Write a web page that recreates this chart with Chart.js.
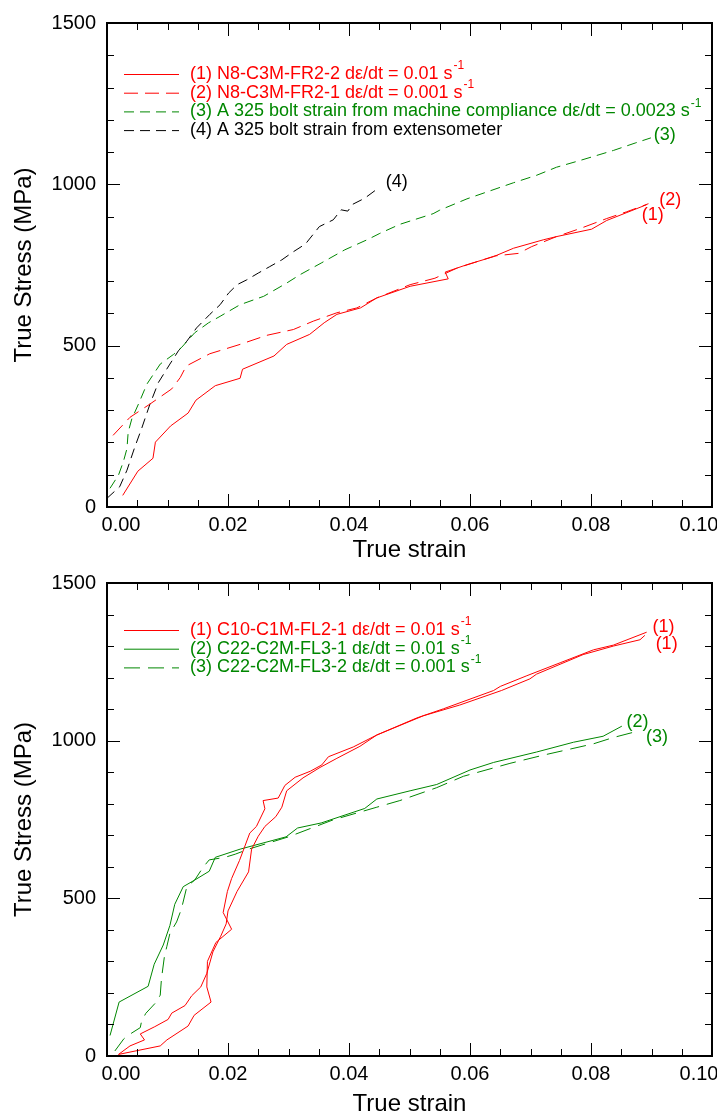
<!DOCTYPE html>
<html>
<head>
<meta charset="utf-8">
<script src="https://cdn.jsdelivr.net/npm/chart.js@4.4.1/dist/chart.umd.min.js"></script>
<style>
  html, body { margin: 0; padding: 0; background: #fff; }
  #wrap { position: relative; width: 717px; height: 1119px; }
  canvas { position: absolute; left: 0; }
</style>
</head>
<body>
<div id="wrap">
  <canvas id="chartTop" width="717" height="565" style="top:0px"></canvas>
  <canvas id="chartBottom" width="717" height="559" style="top:560px"></canvas>
</div>
<script>
'use strict';

const RED = '#ff0000';
const GREEN = 'rgb(0,135,0)';
const BLACK = '#000000';

// ---------- top panel ----------
const topLegendText = [
  '(1) N8-C3M-FR2-2 dε/dt = 0.01 s',
  '(2) N8-C3M-FR2-1 dε/dt = 0.001 s',
  '(3) A 325 bolt strain from machine compliance dε/dt = 0.0023 s',
  '(4) A 325 bolt strain from extensometer'
];
const topLegendSup = ['-1', '-1', '-1', ''];

const fr22Strain = [0.0026,0.0051,0.0076,0.0080,0.0105,0.0134,0.0147,0.0179,0.0220,0.0224,0.0276,0.0297,0.0335,0.0359,0.0380,0.0419,0.0446,0.0501,0.0564,0.0559,0.0595,0.0639,0.0672,0.0721,0.0743,0.0801,0.0826,0.0876,0.0892];
const fr22Stress = [36,111,151,201,251,291,331,376,399,427,468,504,535,571,597,617,648,684,707,728,751,776,802,828,838,861,888,925,937];

const fr21Strain = [0.0010,0.0038,0.0071,0.0107,0.0121,0.0131,0.0170,0.0220,0.0264,0.0308,0.0341,0.0380,0.0413,0.0446,0.0501,0.0542,0.0578,0.0641,0.0680,0.0702,0.0743,0.0782,0.0826,0.0859,0.0895];
const fr21Stress = [222,278,319,366,401,437,475,504,532,550,576,602,617,648,689,709,740,778,786,807,838,863,894,915,940];

const machineStrain = [0.0005,0.0019,0.0027,0.0033,0.0035,0.0041,0.0052,0.0066,0.0088,0.0110,0.0123,0.0145,0.0168,0.0187,0.0220,0.0259,0.0297,0.0319,0.0354,0.0393,0.0432,0.0451,0.0484,0.0539,0.0550,0.0595,0.0672,0.0710,0.0743,0.0782,0.0837,0.0873,0.0899];
const machineStress = [58,99,140,181,232,273,319,381,443,473,494,540,571,591,627,653,694,720,756,797,830,848,876,909,920,955,1005,1028,1053,1074,1105,1128,1144];

const extensoStrain = [0.0000,0.0021,0.0033,0.0046,0.0057,0.0071,0.0085,0.0104,0.0118,0.0132,0.0148,0.0170,0.0187,0.0201,0.0215,0.0231,0.0250,0.0269,0.0289,0.0308,0.0328,0.0351,0.0374,0.0387,0.0398,0.0406,0.0426,0.0444];
const extensoStress = [27,63,114,186,242,319,386,443,484,514,555,597,627,663,689,704,725,745,766,791,815,869,890,921,917,938,957,982];

const topTagText = ['(1)', '(2)', '(3)', '(4)'];
const topTagStrain = [0.0902, 0.0931, 0.0922, 0.0479];
const topTagStress = [906, 951, 1153, 1007];

// ---------- bottom panel ----------
const bottomLegendText = [
  '(1) C10-C1M-FL2-1 dε/dt = 0.01 s',
  '(2) C22-C2M-FL3-1 dε/dt = 0.01 s',
  '(3) C22-C2M-FL3-2 dε/dt = 0.001 s'
];
const bottomLegendSup = ['-1', '-1', '-1'];

const c10aStrain = [0.0019,0.0088,0.0099,0.0134,0.0144,0.0172,0.0165,0.0166,0.0180,0.0206,0.0192,0.0199,0.0206,0.0219,0.0228,0.0236,0.0247,0.0261,0.0258,0.0283,0.0294,0.0311,0.0336,0.0355,0.0366,0.0407,0.0446,0.0512,0.0556,0.0639,0.0650,0.0694,0.0749,0.0804,0.0837,0.0892];
const c10aStress = [5,32,51,95,129,171,219,300,360,402,455,522,563,620,666,707,728,784,810,818,858,884,903,923,949,980,1018,1072,1101,1159,1172,1206,1247,1288,1303,1344];

const c10bStrain = [0.0019,0.0038,0.0062,0.0055,0.0079,0.0101,0.0107,0.0129,0.0140,0.0155,0.0165,0.0175,0.0188,0.0197,0.0200,0.0215,0.0234,0.0239,0.0250,0.0261,0.0279,0.0289,0.0297,0.0324,0.0352,0.0380,0.0418,0.0446,0.0523,0.0583,0.0652,0.0699,0.0710,0.0787,0.0837,0.0881,0.0889];
const c10bStress = [5,32,51,70,93,116,136,160,191,219,262,330,380,419,460,522,584,656,697,728,759,789,841,882,915,944,982,1018,1079,1113,1159,1196,1211,1273,1300,1320,1334];

const fl31Strain = [0.0005,0.0020,0.0068,0.0078,0.0093,0.0104,0.0112,0.0126,0.0145,0.0169,0.0179,0.0220,0.0296,0.0315,0.0354,0.0426,0.0446,0.0501,0.0545,0.0600,0.0639,0.0710,0.0771,0.0820,0.0851];
const fl31Stress = [65,171,221,291,352,414,481,537,558,586,630,656,695,723,739,785,815,841,861,907,931,964,995,1014,1046];

const fl32Strain = [0.0013,0.0028,0.0041,0.0055,0.0057,0.0064,0.0081,0.0088,0.0090,0.0095,0.0099,0.0104,0.0115,0.0123,0.0132,0.0145,0.0159,0.0169,0.0195,0.0212,0.0234,0.0300,0.0374,0.0446,0.0484,0.0545,0.0589,0.0666,0.0721,0.0804,0.0837,0.0873];
const fl32Stress = [16,55,73,90,109,135,170,193,245,317,348,389,425,466,537,558,599,622,630,640,656,695,749,789,810,851,887,928,954,990,1010,1028];

const bottomTagText = ['(1)', '(1)', '(2)', '(3)'];
const bottomTagStrain = [0.0920, 0.0925, 0.0877, 0.0909];
const bottomTagStress = [1360, 1308, 1059, 1010];

// axis ticks
const strainMin = 0, strainMax = 0.10, strainStep = 0.02, strainMinor = 0.005;
const stressMin = 0, stressMax = 1500, stressStep = 500, stressMinor = 100;

const FONT = "'Liberation Sans', Arial, Helvetica, sans-serif";
Chart.defaults.font.family = FONT;
Chart.defaults.color = '#000';

function pts(xs, ys) {
  return xs.map((v, i) => ({ x: v, y: ys[i] }));
}

function series(label, xs, ys, color, dash) {
  return {
    label: label,
    data: pts(xs, ys),
    borderColor: color,
    borderWidth: 1,
    borderDash: dash,
    showLine: true,
    pointRadius: 0,
    fill: false,
    tension: 0
  };
}

// frame, inward ticks, strain labels, legend and curve tags
const panelDecor = {
  id: 'panelDecor',
  afterDatasetsDraw(chart, args, opts) {
    const ctx = chart.ctx;
    const a = chart.chartArea;
    const xs = chart.scales.x, ys = chart.scales.y;
    ctx.save();

    ctx.strokeStyle = '#000';
    ctx.lineWidth = 1;
    ctx.setLineDash([]);
    ctx.beginPath();
    const nx = Math.round((strainMax - strainMin) / strainMinor);
    const perX = Math.round(strainStep / strainMinor);
    for (let i = 0; i <= nx; i++) {
      const px = Math.round(xs.getPixelForValue(strainMin + i * strainMinor)) + 0.5;
      const len = i % perX === 0 ? 13 : 7;
      ctx.moveTo(px, a.bottom); ctx.lineTo(px, a.bottom - len);
      ctx.moveTo(px, a.top); ctx.lineTo(px, a.top + len);
    }
    const ny = Math.round((stressMax - stressMin) / stressMinor);
    const perY = Math.round(stressStep / stressMinor);
    for (let i = 0; i <= ny; i++) {
      const py = Math.round(ys.getPixelForValue(stressMin + i * stressMinor)) + 0.5;
      const len = i % perY === 0 ? 13 : 7;
      ctx.moveTo(a.left, py); ctx.lineTo(a.left + len, py);
      ctx.moveTo(a.right, py); ctx.lineTo(a.right - len, py);
    }
    ctx.stroke();

    ctx.lineWidth = 2;
    ctx.strokeRect(a.left, a.top, a.right - a.left, a.bottom - a.top);

    // strain tick labels (end labels pulled inward, as in the original plot)
    ctx.fillStyle = '#000';
    ctx.font = '20px ' + FONT;
    ctx.textAlign = 'center';
    ctx.textBaseline = 'middle';
    const xt = xs.ticks;
    xt.forEach((t, i) => {
      let px = xs.getPixelForValue(t.value);
      if (i === 0) px += 14;
      if (i === xt.length - 1) px -= 13;
      ctx.fillText(t.value.toFixed(2), px, a.bottom + 18);
    });

    // legend
    const ds = chart.data.datasets;
    ctx.textAlign = 'left';
    opts.text.forEach((t, i) => {
      const d = ds[opts.legendSet[i]];
      const y = a.top + opts.legendTop + i * opts.legendGap;
      ctx.strokeStyle = d.borderColor;
      ctx.lineWidth = 1;
      ctx.setLineDash(d.borderDash || []);
      ctx.beginPath();
      ctx.moveTo(a.left + 17, y + 0.5);
      ctx.lineTo(a.left + 72, y + 0.5);
      ctx.stroke();
      ctx.setLineDash([]);
      ctx.fillStyle = d.borderColor;
      ctx.font = '18px ' + FONT;
      const tx = a.left + 83;
      ctx.fillText(t, tx, y);
      if (opts.sup[i]) {
        const w = ctx.measureText(t).width;
        ctx.font = '12px ' + FONT;
        ctx.fillText(opts.sup[i], tx + w + 1, y - 8);
      }
    });

    // curve tags
    ctx.font = '18px ' + FONT;
    ctx.textAlign = 'center';
    opts.tags.forEach((t, i) => {
      ctx.fillStyle = opts.tagColor[i];
      ctx.fillText(t, xs.getPixelForValue(opts.tagX[i]), ys.getPixelForValue(opts.tagY[i]));
    });

    ctx.restore();
  }
};

function makeOptions(topPad, xHeight, decor) {
  return {
    responsive: false,
    animation: false,
    devicePixelRatio: 1,
    layout: { padding: { top: topPad, right: 5, left: 0, bottom: 0 } },
    plugins: {
      legend: { display: false },
      tooltip: { enabled: false },
      panelDecor: decor
    },
    scales: {
      x: {
        type: 'linear',
        min: strainMin,
        max: strainMax,
        grid: { display: false, drawTicks: false },
        border: { display: false },
        ticks: {
          display: false,
          stepSize: strainStep,
          autoSkip: false
        },
        title: {
          display: true,
          text: 'True strain',
          font: { size: 24 },
          color: '#000',
          padding: { top: 0, bottom: 0 }
        },
        afterFit(scale) {
          scale.height = xHeight;
          scale.paddingLeft = 0;
          scale.paddingRight = 0;
        }
      },
      y: {
        type: 'linear',
        min: stressMin,
        max: stressMax,
        grid: { display: false, drawTicks: false },
        border: { display: false },
        ticks: {
          stepSize: stressStep,
          padding: 11,
          font: { size: 20 },
          color: '#000',
          callback: v => String(v)
        },
        title: {
          display: true,
          text: 'True Stress (MPa)',
          font: { size: 24 },
          color: '#000',
          padding: { top: 10, bottom: 0 }
        },
        afterFit(scale) {
          scale.width = 107;
        }
      }
    }
  };
}

new Chart(document.getElementById('chartTop'), {
  type: 'scatter',
  data: {
    datasets: [
      series('(1) N8-C3M-FR2-2', fr22Strain, fr22Stress, RED, []),
      series('(2) N8-C3M-FR2-1', fr21Strain, fr21Stress, RED, [14, 7]),
      series('(3) A 325 machine compliance', machineStrain, machineStress, GREEN, [10, 6]),
      series('(4) A 325 extensometer', extensoStrain, extensoStress, BLACK, [10, 6])
    ]
  },
  options: makeOptions(20, 58, {
    text: topLegendText,
    sup: topLegendSup,
    legendSet: [0, 1, 2, 3],
    legendTop: 51,
    legendGap: 18.7,
    tags: topTagText,
    tagX: topTagStrain,
    tagY: topTagStress,
    tagColor: [RED, RED, GREEN, BLACK]
  }),
  plugins: [panelDecor]
});

new Chart(document.getElementById('chartBottom'), {
  type: 'scatter',
  data: {
    datasets: [
      series('(1) C10-C1M-FL2-1 a', c10aStrain, c10aStress, RED, []),
      series('(1) C10-C1M-FL2-1 b', c10bStrain, c10bStress, RED, []),
      series('(2) C22-C2M-FL3-1', fl31Strain, fl31Stress, GREEN, []),
      series('(3) C22-C2M-FL3-2', fl32Strain, fl32Stress, GREEN, [16, 8])
    ]
  },
  options: makeOptions(10, 63, {
    text: bottomLegendText,
    sup: bottomLegendSup,
    legendSet: [0, 2, 3],
    legendTop: 47,
    legendGap: 18.7,
    tags: bottomTagText,
    tagX: bottomTagStrain,
    tagY: bottomTagStress,
    tagColor: [RED, RED, GREEN, GREEN]
  }),
  plugins: [panelDecor]
});
</script>
</body>
</html>
